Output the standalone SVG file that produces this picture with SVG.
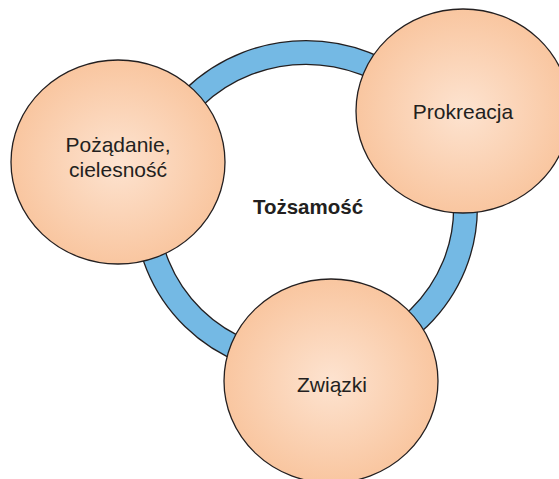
<svg xmlns="http://www.w3.org/2000/svg" width="559" height="479" viewBox="0 0 559 479">
<style>
.node{stroke:#231f20;stroke-width:1.3;fill:url(#peach)}
.lbl{font-family:"Liberation Sans",Arial,sans-serif;font-size:21px;fill:#231f20;text-anchor:middle}
.title{font-family:"Liberation Sans",Arial,sans-serif;font-size:20.5px;font-weight:bold;fill:#231f20;text-anchor:middle}
</style>
<defs>
<radialGradient id="peach" cx="0.5" cy="0.5" r="0.5">
<stop offset="0" stop-color="#fde3d0"/>
<stop offset="1" stop-color="#f9c6a0"/>
</radialGradient>
</defs>
<rect width="559" height="479" fill="#ffffff"/>
<g id="connectors">
<ellipse cx="306" cy="208" rx="159.5" ry="155.5" fill="none" stroke="#231f20" stroke-width="25"/>
<ellipse cx="306" cy="208" rx="159.5" ry="155.5" fill="none" stroke="#74b9e4" stroke-width="22.4"/>
</g>
<g id="center">
<text class="title" x="308" y="214">Tożsamość</text>
</g>
<g id="node-pozadanie">
<ellipse class="node" cx="118" cy="162" rx="107" ry="102"/>
<text class="lbl" x="118" y="151.5">Pożądanie,</text>
<text class="lbl" x="118" y="176.5">cielesność</text>
</g>
<g id="node-prokreacja">
<ellipse class="node" cx="463" cy="111" rx="107" ry="102"/>
<text class="lbl" x="463" y="119">Prokreacja</text>
</g>
<g id="node-zwiazki">
<ellipse class="node" cx="331" cy="381" rx="107" ry="102"/>
<text class="lbl" x="332" y="391.5">Związki</text>
</g>
</svg>
